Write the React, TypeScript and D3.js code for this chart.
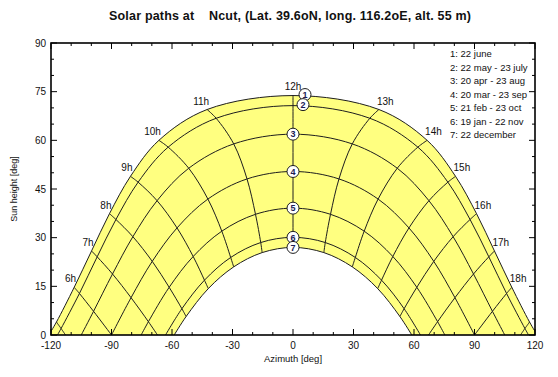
import React from 'react';
import * as d3 from 'd3';

// ---- data ----
const hours = [5, 6, 7, 8, 9, 10, 11, 12, 13, 14, 15, 16, 17, 18, 19];
const hourLabelHours = [6, 7, 8, 9, 10, 11, 12, 13, 14, 15, 16, 17, 18];

const legendLabels = [
  '1: 22 june',
  '2: 22 may - 23 july',
  '3: 20 apr - 23 aug',
  '4: 20 mar - 23 sep',
  '5: 21 feb - 23 oct',
  '6: 19 jan - 22 nov',
  '7: 22 december',
];

type V = number | null;
const juneAz: V[] = [-117.3, -108.5, -99.9, -91.0, -80.6, -66.5, -42.6, 0, 42.6, 66.5, 80.6, 91.0, 99.9, 108.5, 117.3];
const juneAlt: V[] = [4.0, 14.7, 25.9, 37.4, 48.9, 60.0, 69.5, 73.8, 69.5, 60.0, 48.9, 37.4, 25.9, 14.7, 4.0];
const mayAz: V[] = [-115.0, -105.9, -97.1, -87.8, -76.8, -61.9, -38.1, 0, 38.1, 61.9, 76.8, 87.8, 97.1, 105.9, 115.0];
const mayAlt: V[] = [2.0, 12.8, 24.1, 35.6, 47.1, 57.9, 66.8, 70.7, 66.8, 57.9, 47.1, 35.6, 24.1, 12.8, 2.0];
const aprAz: V[] = [null, -98.9, -89.5, -79.4, -67.4, -51.7, -29.4, 0, 29.4, 51.7, 67.4, 79.4, 89.5, 98.9, null];
const aprAlt: V[] = [null, 7.3, 18.8, 30.3, 41.4, 51.4, 58.9, 61.9, 58.9, 51.4, 41.4, 30.3, 18.8, 7.3, null];
const marAz: V[] = [null, null, -80.3, -69.8, -57.5, -42.2, -22.8, 0, 22.8, 42.2, 57.5, 69.8, 80.3, null, null];
const marAlt: V[] = [null, null, 11.5, 22.7, 33.0, 41.9, 48.1, 50.4, 48.1, 41.9, 33.0, 22.7, 11.5, null, null];
const febAz: V[] = [null, null, -71.7, -61.4, -49.5, -35.3, -18.6, 0, 18.6, 35.3, 49.5, 61.4, 71.7, null, null];
const febAlt: V[] = [null, null, 4.1, 14.7, 24.2, 32.0, 37.2, 39.1, 37.2, 32.0, 24.2, 14.7, 4.1, null, null];
const janAz: V[] = [null, null, null, -55.1, -43.9, -30.9, -16.0, 0, 16.0, 30.9, 43.9, 55.1, null, null, null];
const janAlt: V[] = [null, null, null, 8.1, 16.9, 23.9, 28.5, 30.1, 28.5, 23.9, 16.9, 8.1, null, null, null];
const decAz: V[] = [null, null, null, -53.0, -42.0, -29.4, -15.3, 0, 15.3, 29.4, 42.0, 53.0, null, null, null];
const decAlt: V[] = [null, null, null, 5.7, 14.3, 21.0, 25.4, 27.0, 25.4, 21.0, 14.3, 5.7, null, null, null];

// sunrise / sunset azimuths (sun height 0) per date
const sunriseAz = [-121.1, -116.8, -105.0, -90.0, -75.3, -63.2, -58.9];
const sunsetAz = [121.1, 116.8, 105.0, 90.0, 75.3, 63.2, 58.9];

// azimuth where each hour line meets the horizon (null: it ends on the 22 december curve)
const hourHorizonAz: V[] = [-112.8, -90.0, -67.2, null, null, null, null, null, null, null, null, null, 67.2, 90.0, 112.8];

const xTicks = d3.range(-120, 121, 10);
const yTicks = d3.range(0, 91, 5);
const xTickLabels = [-120, -90, -60, -30, 0, 30, 60, 90, 120];
const yTickLabels = [0, 15, 30, 45, 60, 75, 90];

const dateAz = [juneAz, mayAz, aprAz, marAz, febAz, janAz, decAz];
const dateAlt = [juneAlt, mayAlt, aprAlt, marAlt, febAlt, janAlt, decAlt];

// ---- layout ----
const W = 558;
const H = 377;
const left = 51, right = 535, top = 43, bottom = 335;
const FONT = '"Liberation Sans", Arial, Helvetica, sans-serif';
const YELLOW = '#ffff80';
const INK = '#1e1e1e';

export default function App() {
  const xs = d3.scaleLinear().domain([-120, 120]).range([left, right]);
  const ys = d3.scaleLinear().domain([0, 90]).range([bottom, top]);
  const line = d3
    .line<[number, number]>()
    .x((d) => xs(d[0]))
    .y((d) => ys(d[1]))
    .curve(d3.curveCatmullRom.alpha(0.5));

  const datePoints: [number, number][][] = dateAz.map((azs, i) => {
    const pts: [number, number][] = [[sunriseAz[i], 0]];
    azs.forEach((az, j) => {
      const alt = dateAlt[i][j];
      if (az !== null && alt !== null) pts.push([az, alt]);
    });
    pts.push([sunsetAz[i], 0]);
    return pts;
  });

  const hourPoints: [number, number][][] = hours.map((_, j) => {
    const pts: [number, number][] = [];
    dateAz.forEach((azs, i) => {
      const az = azs[j];
      const alt = dateAlt[i][j];
      if (az !== null && alt !== null) pts.push([az, alt]);
    });
    const hz = hourHorizonAz[j];
    if (hz !== null) pts.push([hz, 0]);
    return pts;
  });

  const junePath = line(datePoints[0]) || '';
  const decRev = (line([...datePoints[6]].reverse()) || '').replace(/^M/, 'L');
  const fillPath = junePath + decRev + 'Z';

  const noonIdx = hours.indexOf(12);

  return (
    <svg
      width={W}
      height={H}
      viewBox={`0 0 ${W} ${H}`}
      style={{ position: 'absolute', left: 0, top: 0, background: '#fff', display: 'block' }}
      fontFamily={FONT}
    >
      <defs>
        <clipPath id="plotClip">
          <rect x={left} y={top} width={right - left} height={bottom - top} />
        </clipPath>
      </defs>
      <rect x={0} y={0} width={W} height={H} fill="#fff" />

      <text
        x={290}
        y={20}
        textAnchor="middle"
        fontSize={12.5}
        fontWeight="bold"
        fill="#111"
        textLength={362}
        lengthAdjust="spacing"
        style={{ whiteSpace: 'pre' }}
      >
        {'Solar paths at    Ncut, (Lat. 39.6oN, long. 116.2oE, alt. 55 m)'}
      </text>

      <g clipPath="url(#plotClip)">
        <path d={fillPath} fill={YELLOW} stroke="none" />
        {datePoints.map((pts, i) => (
          <path key={'d' + i} d={line(pts) || ''} fill="none" stroke={INK} strokeWidth={1} />
        ))}
        {hourPoints.map((pts, j) =>
          pts.length > 1 ? (
            <path key={'h' + j} d={line(pts) || ''} fill="none" stroke={INK} strokeWidth={1} />
          ) : null
        )}
      </g>

      {/* hour labels */}
      {hourLabelHours.map((h) => {
        const j = hours.indexOf(h);
        const az = juneAz[j] as number;
        const alt = juneAlt[j] as number;
        const x = xs(az);
        const y = ys(alt);
        const anchor = h < 12 ? 'end' : h > 12 ? 'start' : 'middle';
        const dx = h < 12 ? 2 : h > 12 ? -2 : 0;
        const dy = h === 12 ? -6 : -5;
        return (
          <text key={'hl' + h} x={x + dx} y={y + dy} textAnchor={anchor} fontSize={10} fill="#111">
            {h + 'h'}
          </text>
        );
      })}

      {/* date markers */}
      {dateAlt.map((alts, i) => {
        const shift = i === 0 ? 12 : i === 1 ? 10 : 0;
        const cx = xs(0) + shift;
        const cy = ys(alts[noonIdx] as number) - (i < 2 ? 1 : 0);
        return (
          <g key={'m' + i}>
            <circle cx={cx} cy={cy} r={6} fill="#fff" stroke={INK} strokeWidth={1} />
            <text x={cx} y={cy + 3.3} textAnchor="middle" fontSize={9} fontWeight="bold" fill="#1a1a55">
              {String(i + 1)}
            </text>
          </g>
        );
      })}

      {/* ticks */}
      {xTicks.map((v) => {
        const len = v % 30 === 0 ? 6 : 3;
        const x = xs(v);
        return (
          <g key={'xt' + v}>
            <line x1={x} x2={x} y1={bottom} y2={bottom - len} stroke="#000" strokeWidth={1} />
            <line x1={x} x2={x} y1={top} y2={top + len} stroke="#000" strokeWidth={1} />
          </g>
        );
      })}
      {yTicks.map((v) => {
        const len = v % 15 === 0 ? 6 : 3;
        const y = ys(v);
        return (
          <g key={'yt' + v}>
            <line x1={left} x2={left + len} y1={y} y2={y} stroke="#000" strokeWidth={1} />
            <line x1={right} x2={right - len} y1={y} y2={y} stroke="#000" strokeWidth={1} />
          </g>
        );
      })}

      {/* legend */}
      {legendLabels.map((t, i) => (
        <text key={'lg' + i} x={450} y={57 + i * 13.5} fontSize={9.5} fill="#111">
          {t}
        </text>
      ))}

      {/* frame */}
      <rect x={left} y={top} width={right - left} height={bottom - top} fill="none" stroke="#000" strokeWidth={1.6} />

      {/* tick labels */}
      {xTickLabels.map((v) => (
        <text key={'xl' + v} x={xs(v)} y={bottom + 14} textAnchor="middle" fontSize={10} fill="#111">
          {String(v)}
        </text>
      ))}
      {yTickLabels.map((v) => (
        <text key={'yl' + v} x={left - 5} y={ys(v) + 3.5} textAnchor="end" fontSize={10} fill="#111">
          {String(v)}
        </text>
      ))}

      <text x={xs(0)} y={bottom + 27} textAnchor="middle" fontSize={9.5} fill="#111">
        Azimuth [deg]
      </text>
      <text
        transform={`translate(${17},${(top + bottom) / 2}) rotate(-90)`}
        textAnchor="middle"
        fontSize={9}
        fill="#111"
      >
        Sun height [deg]
      </text>
    </svg>
  );
}
